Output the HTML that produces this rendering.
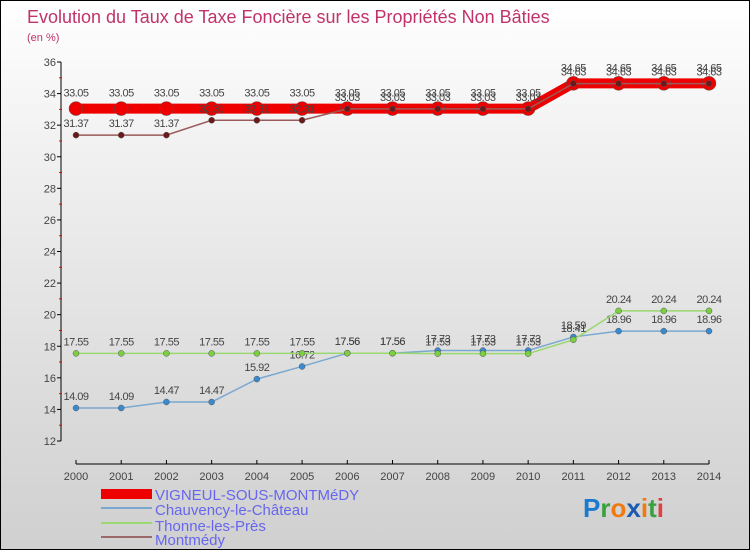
<!DOCTYPE html>
<html><head><meta charset="utf-8"><style>
body{margin:0}
#c{width:750px;height:550px;position:relative;box-sizing:border-box;border:1px solid #000;background:linear-gradient(#fff 0%,#f2f2f2 25%,#d8d8d8 80%,#d0d0d0 100%);font-family:"Liberation Sans",sans-serif;overflow:hidden}
svg text{font-family:"Liberation Sans",sans-serif}
</style></head><body>
<div id="c">
<svg width="750" height="550" id="s">
<text x="26" y="22" font-size="18" fill="#c0336a">Evolution du Taux de Taxe Foncière sur les Propriétés Non Bâties</text>
<text x="26" y="40" font-size="11" fill="#c0336a">(en %)</text>
<g id="axes"></g><g id="series"></g>
<g>
<rect x="100" y="488" width="51" height="10" fill="#e00"/>
<text x="154" y="499" font-size="15" fill="#6666ee">VIGNEUL-SOUS-MONTMéDY</text>
<rect x="100" y="506" width="51" height="2" fill="#7aa8d0"/>
<text x="154" y="514" font-size="15" fill="#6666ee">Chauvency-le-Château</text>
<rect x="100" y="521" width="51" height="2" fill="#9ad870"/>
<text x="154" y="530" font-size="15" fill="#6666ee">Thonne-les-Près</text>
<rect x="100" y="535" width="51" height="2" fill="#9a6a6a"/>
<text x="154" y="544" font-size="15" fill="#6666ee">Montmédy</text>
</g>
<g font-size="26" font-weight="bold">
<text x="582" y="516"><tspan fill="#1a7ad0">P</tspan><tspan fill="#3aa040">r</tspan><tspan fill="#f07a10">o</tspan><tspan fill="#1a5ab0">x</tspan><tspan fill="#f07a10">i</tspan><tspan fill="#3aa040">t</tspan><tspan fill="#e04040">i</tspan></text>
</g>
</svg></div>
<script>
const years=[2000,2001,2002,2003,2004,2005,2006,2007,2008,2009,2010,2011,2012,2013,2014];
const yTicks=[12,14,16,18,20,22,24,26,28,30,32,34,36];
const vigneul=[33.05,33.05,33.05,33.05,33.05,33.05,33.05,33.05,33.05,33.05,33.05,34.65,34.65,34.65,34.65];
const chauvency=[14.09,14.09,14.47,14.47,15.92,16.72,17.56,17.56,17.73,17.73,17.73,18.59,18.96,18.96,18.96];
const thonne=[17.55,17.55,17.55,17.55,17.55,17.55,17.56,17.56,17.53,17.53,17.53,18.41,20.24,20.24,20.24];
const montmedy=[31.37,31.37,31.37,32.31,32.31,32.31,33.03,33.03,33.03,33.03,33.03,34.63,34.63,34.63,34.63];
const NS="http://www.w3.org/2000/svg";
const X=i=>75+i*(633/14);
const Y=v=>440-(v-12)*(379/24);
function mk(t,a,p){const e=document.createElementNS(NS,t);for(const k in a)e.setAttribute(k,a[k]);p.appendChild(e);return e;}
const ax=document.getElementById('axes');
let yl=mk('line',{x1:60,y1:Y(36),x2:60,y2:Y(12),stroke:'#000','stroke-width':1},ax);


yTicks.forEach((v,i)=>{
  mk('line',{x1:56,y1:Y(v),x2:60,y2:Y(v),stroke:'#000'},ax);
  if(i<yTicks.length-1) mk('line',{x1:58,y1:Y(v+1),x2:61,y2:Y(v+1),stroke:'#e00'},ax);
  const t=mk('text',{x:55,y:Y(v)+4,'font-size':11,fill:'#444','text-anchor':'end'},ax);t.textContent=v;
  
  
});
let xl=mk('line',{x1:75,y1:463,x2:708,y2:463,stroke:'#000'},ax);


years.forEach((y,i)=>{
  mk('line',{x1:X(i),y1:459,x2:X(i),y2:463,stroke:'#000'},ax);
  const t=mk('text',{x:X(i),y:479,'font-size':11,fill:'#444','text-anchor':'middle'},ax);t.textContent=y;
  
  
});
const sg=document.getElementById('series');
function series(name,data,color,w,r,dot){
  const g=mk('g',{},sg);
  
  
  const l=mk('polyline',{points:data.map((v,i)=>X(i)+','+Y(v)).join(' '),fill:'none',stroke:color,'stroke-width':w},g);
  
  
  data.forEach((v,i)=>{
    const c=mk('circle',{cx:X(i),cy:Y(v),r:r,fill:dot,stroke:'#555','stroke-width':0.5},g);
    
    
    const t=mk('text',{x:X(i),y:Y(v)-(r+5),'font-size':11,fill:'#444','text-anchor':'middle','letter-spacing':'-0.5'},g);t.textContent=v;
    
    
  });
}
series('chauvency',chauvency,'#7aa8d0',1.5,3,'#3a8ad0');
series('thonne',thonne,'#9ad870',1.5,3,'#7ad040');
series('vigneul',vigneul,'#e00',10,7,'#e00');
series('montmedy',montmedy,'#9a5a5a',1.5,3,'#6a1a1a');
</script>
</body></html>
